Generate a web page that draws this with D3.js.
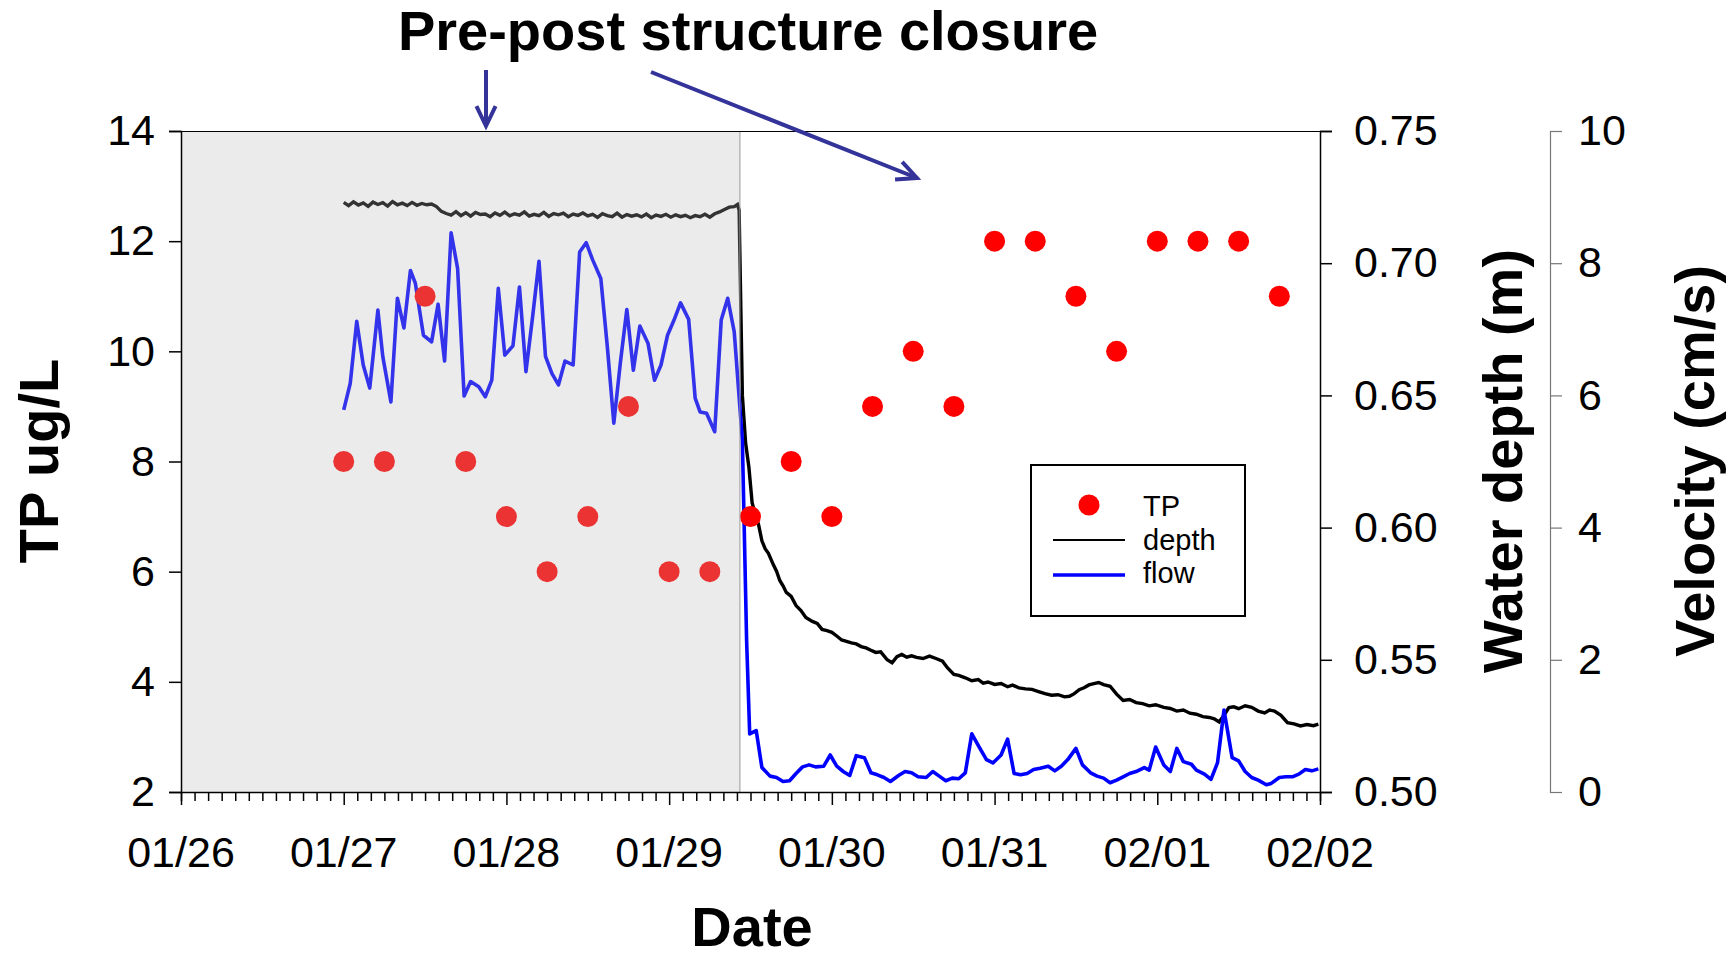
<!DOCTYPE html>
<html><head><meta charset="utf-8">
<script src="https://cdn.jsdelivr.net/npm/d3@7"></script>
<style>body{margin:0;background:#fff}svg{font-family:"Liberation Sans",Arial,sans-serif}</style>
</head><body><svg id="c" width="1736" height="959"></svg>
<script>
// ---- data ----
const xTickLabels = ["01/26","01/27","01/28","01/29","01/30","01/31","02/01","02/02"];
const tpTicks = [2,4,6,8,10,12,14];
const depthTicks = [0.50,0.55,0.60,0.65,0.70,0.75];
const velTicks = [0,2,4,6,8,10];
const closureDay = 3.435;
const tpDays = [1.0,1.25,1.5,1.75,2.0,2.25,2.5,2.75,3.0,3.25,3.5,3.75,4.0,4.25,4.5,4.75,5.0,5.25,5.5,5.75,6.0,6.25,6.5,6.75];
const tpValues = [8,8,11,8,7,6,7,9,6,6,7,8,7,9,10,9,12,12,11,10,12,12,12,11];
const flowDays = [1.0,1.04,1.08,1.12,1.16,1.21,1.24,1.29,1.33,1.37,1.41,1.44,1.49,1.54,1.58,1.62,1.66,1.70,1.74,1.78,1.83,1.87,1.91,1.95,1.99,2.04,2.08,2.12,2.16,2.20,2.24,2.28,2.32,2.36,2.41,2.45,2.49,2.53,2.58,2.62,2.66,2.70,2.74,2.78,2.82,2.87,2.91,2.95,2.99,3.03,3.07,3.12,3.16,3.19,3.23,3.28,3.32,3.36,3.40,3.45,3.476,3.495,3.535,3.57,3.62,3.66,3.70,3.74,3.78,3.82,3.86,3.90,3.95,3.99,4.03,4.07,4.11,4.15,4.20,4.24,4.28,4.32,4.36,4.41,4.45,4.49,4.53,4.58,4.62,4.66,4.70,4.74,4.78,4.82,4.86,4.91,4.95,4.99,5.04,5.08,5.12,5.16,5.20,5.24,5.28,5.33,5.37,5.41,5.45,5.50,5.54,5.59,5.63,5.67,5.71,5.75,5.79,5.83,5.87,5.92,5.95,5.99,6.04,6.08,6.12,6.16,6.21,6.24,6.29,6.33,6.37,6.41,6.46,6.50,6.54,6.58,6.62,6.67,6.70,6.75,6.79,6.83,6.87,6.91,6.95,6.99];
const flowValues = [5.78,6.18,7.12,6.46,6.11,7.29,6.59,5.90,7.47,7.02,7.89,7.70,6.91,6.81,7.38,6.52,8.46,7.92,5.99,6.21,6.13,5.98,6.23,7.62,6.61,6.75,7.64,6.36,7.17,8.03,6.59,6.33,6.16,6.52,6.46,8.17,8.31,8.05,7.77,6.74,5.58,6.49,7.30,6.38,7.05,6.79,6.23,6.46,6.91,7.14,7.40,7.15,5.96,5.75,5.73,5.45,7.14,7.47,6.96,5.32,2.3,0.88,0.93,0.37,0.24,0.22,0.16,0.17,0.28,0.38,0.41,0.38,0.39,0.56,0.39,0.31,0.25,0.55,0.52,0.29,0.26,0.22,0.16,0.25,0.31,0.29,0.23,0.22,0.31,0.24,0.17,0.21,0.20,0.29,0.88,0.66,0.49,0.44,0.56,0.80,0.28,0.26,0.28,0.34,0.36,0.39,0.32,0.39,0.49,0.66,0.41,0.29,0.24,0.21,0.14,0.18,0.23,0.28,0.31,0.37,0.33,0.68,0.41,0.31,0.66,0.46,0.42,0.33,0.27,0.19,0.44,1.24,0.52,0.47,0.31,0.22,0.18,0.11,0.13,0.22,0.23,0.23,0.27,0.34,0.32,0.35];
const depthDays = [1.0,1.03,1.06,1.09,1.12,1.15,1.18,1.21,1.24,1.27,1.30,1.33,1.36,1.39,1.42,1.45,1.48,1.51,1.54,1.57,1.60,1.63,1.66,1.69,1.72,1.75,1.78,1.81,1.84,1.87,1.90,1.93,1.96,1.99,2.02,2.05,2.08,2.11,2.14,2.17,2.20,2.23,2.26,2.29,2.32,2.35,2.38,2.41,2.44,2.47,2.50,2.53,2.56,2.59,2.62,2.65,2.68,2.71,2.74,2.77,2.80,2.83,2.86,2.89,2.92,2.95,2.98,3.01,3.04,3.07,3.10,3.13,3.16,3.19,3.22,3.25,3.28,3.31,3.34,3.37,3.40,3.42,3.43,3.45,3.47,3.49,3.51,3.53,3.55,3.57,3.59,3.61,3.64,3.66,3.68,3.70,3.72,3.75,3.78,3.81,3.84,3.88,3.91,3.94,3.97,4.00,4.03,4.06,4.09,4.12,4.15,4.18,4.21,4.24,4.27,4.30,4.34,4.37,4.40,4.43,4.46,4.49,4.52,4.56,4.60,4.64,4.68,4.71,4.75,4.78,4.82,4.86,4.90,4.93,4.96,5.00,5.04,5.08,5.11,5.15,5.19,5.23,5.27,5.31,5.35,5.39,5.43,5.46,5.49,5.52,5.55,5.58,5.61,5.64,5.67,5.71,5.75,5.79,5.83,5.87,5.91,5.95,5.99,6.04,6.08,6.12,6.16,6.20,6.24,6.28,6.32,6.35,6.38,6.41,6.44,6.47,6.50,6.54,6.58,6.62,6.66,6.69,6.72,6.76,6.80,6.84,6.88,6.92,6.96,6.99];
const depthValues = [0.7230,0.7218,0.7232,0.7220,0.7228,0.7215,0.7231,0.7222,0.7229,0.7216,0.7233,0.7221,0.7227,0.7218,0.7230,0.7219,0.7226,0.7221,0.7224,0.7214,0.7196,0.7188,0.7182,0.7195,0.7180,0.7191,0.7178,0.7192,0.7184,0.7186,0.7176,0.7190,0.7181,0.7193,0.7179,0.7187,0.7182,0.7194,0.7178,0.7185,0.7180,0.7192,0.7177,0.7188,0.7183,0.7189,0.7176,0.7186,0.7181,0.7190,0.7179,0.7185,0.7173,0.7187,0.7180,0.7176,0.7189,0.7174,0.7184,0.7178,0.7183,0.7175,0.7186,0.7172,0.7182,0.7177,0.7185,0.7174,0.7183,0.7176,0.7181,0.7172,0.7180,0.7176,0.7185,0.7174,0.7187,0.7194,0.7203,0.7212,0.7214,0.7222,0.7200,0.6500,0.6320,0.6229,0.6093,0.6050,0.6010,0.5950,0.5920,0.5903,0.5860,0.5835,0.5800,0.5780,0.5755,0.5740,0.5705,0.5686,0.5660,0.5645,0.5638,0.5615,0.5610,0.5604,0.5590,0.5575,0.5570,0.5564,0.5560,0.5550,0.5545,0.5536,0.5528,0.5530,0.5500,0.5489,0.5512,0.5520,0.5510,0.5515,0.5509,0.5505,0.5514,0.5505,0.5495,0.5470,0.5445,0.5441,0.5432,0.5421,0.5425,0.5412,0.5416,0.5407,0.5410,0.5398,0.5404,0.5394,0.5390,0.5388,0.5380,0.5372,0.5366,0.5368,0.5360,0.5362,0.5372,0.5387,0.5394,0.5405,0.5410,0.5414,0.5406,0.5400,0.5370,0.5346,0.5350,0.5338,0.5334,0.5326,0.5330,0.5320,0.5316,0.5306,0.5310,0.5298,0.5294,0.5285,0.5282,0.5277,0.5265,0.5290,0.5319,0.5322,0.5315,0.5326,0.5320,0.5306,0.5299,0.5310,0.5306,0.5290,0.5262,0.5258,0.5250,0.5255,0.5251,0.5257,0.5254];

// ---- layout ----
const L=181,R=1320,T=131,B=792;
const svg=d3.select("#c");
const x=d3.scaleLinear().domain([0,7]).range([L,R]);
const yTP=d3.scaleLinear().domain([2,14]).range([B,T]);
const yD=d3.scaleLinear().domain([0.5,0.75]).range([B,T]);
const yV=d3.scaleLinear().domain([0,10]).range([B,T]);

const dLine=d3.line().x((d,i)=>x(depthDays[i])).y(d=>yD(d));
svg.append("path").attr("d",dLine(depthValues)).attr("fill","none").attr("stroke","#000").attr("stroke-width",3.4);
const fLine=d3.line().x((d,i)=>x(flowDays[i])).y(d=>yV(d));
svg.append("path").attr("d",fLine(flowValues)).attr("fill","none").attr("stroke","#0000ff").attr("stroke-width",3.6).attr("stroke-linejoin","round");
svg.selectAll("circle.tp").data(tpValues).join("circle").attr("class","tp")
 .attr("cx",(d,i)=>x(tpDays[i])).attr("cy",d=>yTP(d)).attr("r",10.5).attr("fill","#ff0000");

svg.append("rect").attr("x",x(0)).attr("y",T).attr("width",x(closureDay)-x(0)).attr("height",B-T).attr("fill","#b7b7b7").attr("opacity",0.28);
svg.append("line").attr("x1",x(closureDay)).attr("x2",x(closureDay)).attr("y1",T).attr("y2",B).attr("stroke","#999").attr("stroke-width",1);
svg.append("line").attr("x1",L).attr("x2",R).attr("y1",T+0.5).attr("y2",T+0.5).attr("stroke","#000").attr("stroke-width",1.2);

const font=43;
const gx=svg.append("g").attr("transform",`translate(0,${B})`)
 .call(d3.axisBottom(x).tickValues(d3.range(0,7.0001,1/12)).tickSize(9).tickFormat(""));
gx.selectAll(".tick line").attr("stroke-width",1.5).attr("y2",(d)=>Math.abs(d-Math.round(d))<1e-6?13:9);
gx.select(".domain").attr("stroke-width",1.5);
svg.selectAll("text.xt").data(xTickLabels).join("text").attr("class","xt")
 .attr("x",(d,i)=>x(i)).attr("y",867).attr("text-anchor","middle").attr("font-size",font).text(d=>d);
const gl=svg.append("g").attr("transform",`translate(${L},0)`).call(d3.axisLeft(yTP).tickValues(tpTicks).tickSize(12).tickPadding(14));
gl.selectAll("text").attr("font-size",font).attr("font-family","Liberation Sans, Arial").attr("fill","#000");
gl.select(".domain").attr("stroke-width",1.5);gl.selectAll(".tick line").attr("stroke-width",1.5);
const gr=svg.append("g").attr("transform",`translate(${R},0)`).call(d3.axisRight(yD).tickValues(depthTicks).tickSize(12).tickPadding(22).tickFormat(d3.format(".2f")));
gr.selectAll("text").attr("font-size",font).attr("font-family","Liberation Sans, Arial").attr("fill","#000");
gr.select(".domain").attr("stroke-width",1.5);gr.selectAll(".tick line").attr("stroke-width",1.5);
const gv=svg.append("g").attr("transform",`translate(1550,0)`).call(d3.axisRight(yV).tickValues(velTicks).tickSize(12).tickPadding(16));
gv.selectAll("text").attr("font-size",font).attr("font-family","Liberation Sans, Arial").attr("fill","#000");
gv.select(".domain").attr("stroke","#777").attr("stroke-width",1.2);gv.selectAll(".tick line").attr("stroke","#777").attr("stroke-width",1.2);

const tf=56;
svg.append("text").attr("transform","translate(58,461) rotate(-90)").attr("text-anchor","middle").attr("font-size",tf).attr("font-weight","bold").text("TP ug/L");
svg.append("text").attr("transform","translate(1522,461) rotate(-90)").attr("text-anchor","middle").attr("font-size",tf).attr("font-weight","bold").text("Water depth (m)");
svg.append("text").attr("transform","translate(1714,461) rotate(-90)").attr("text-anchor","middle").attr("font-size",tf).attr("font-weight","bold").text("Velocity (cm/s)");
svg.append("text").attr("x",752).attr("y",946).attr("text-anchor","middle").attr("font-size",tf).attr("font-weight","bold").text("Date");
svg.append("text").attr("x",748).attr("y",50).attr("text-anchor","middle").attr("font-size",tf).attr("font-weight","bold").text("Pre-post structure closure");

const ac="#333399";
function arrow(x1,y1,x2,y2){
  svg.append("line").attr("x1",x1).attr("y1",y1).attr("x2",x2).attr("y2",y2).attr("stroke",ac).attr("stroke-width",4);
  const a=Math.atan2(y2-y1,x2-x1),h=22,s=0.45;
  const p=[[x2-h*Math.cos(a-s),y2-h*Math.sin(a-s)],[x2,y2],[x2-h*Math.cos(a+s),y2-h*Math.sin(a+s)]];
  svg.append("path").attr("d",d3.line()(p)).attr("fill","none").attr("stroke",ac).attr("stroke-width",4);
}
arrow(486,70,486,126);
arrow(651,72,917,178);

const lg=svg.append("g");
lg.append("rect").attr("x",1031).attr("y",465).attr("width",214).attr("height",151).attr("fill","#fff").attr("stroke","#000").attr("stroke-width",2);
lg.append("circle").attr("cx",1089).attr("cy",505).attr("r",10.5).attr("fill","#ff0000");
lg.append("line").attr("x1",1053).attr("x2",1125).attr("y1",540).attr("y2",540).attr("stroke","#000").attr("stroke-width",2);
lg.append("line").attr("x1",1053).attr("x2",1125).attr("y1",575).attr("y2",575).attr("stroke","#0000ff").attr("stroke-width",3.5);
[["TP",516],["depth",550],["flow",583]].forEach(([t,yy])=>lg.append("text").attr("x",1143).attr("y",yy).attr("font-size",29).text(t));
</script></body></html>
